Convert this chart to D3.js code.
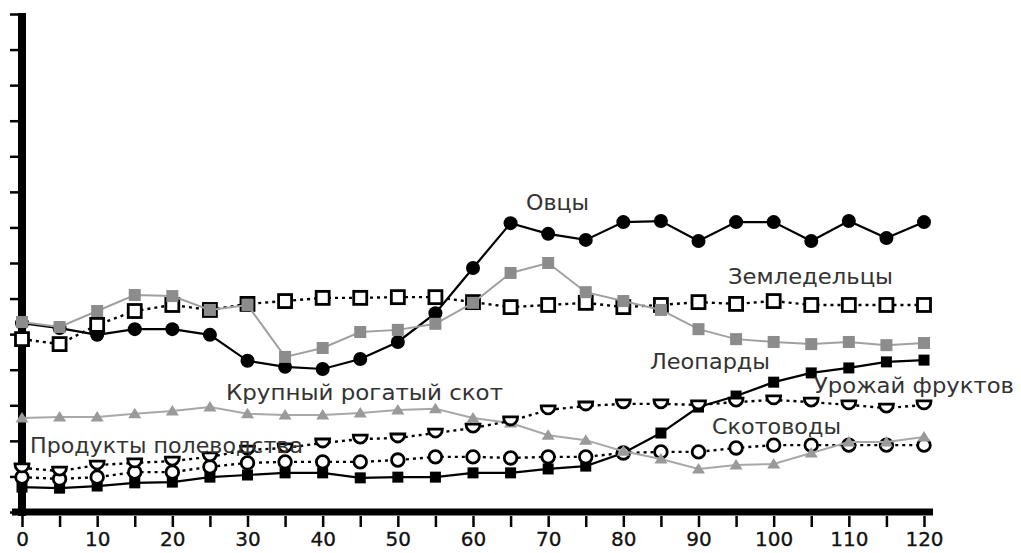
<!DOCTYPE html>
<html>
<head>
<meta charset="utf-8">
<script src="https://cdn.jsdelivr.net/npm/d3@7"></script>
<style>
  html, body { margin: 0; padding: 0; background: #fff; }
  svg { display: block; }
</style>
</head>
<body>
<svg id="chart" width="1021" height="553"></svg>
<script>
// ---- data ----
const years = d3.range(0, 121, 5);
const xTickLabels = [0, 10, 20, 30, 40, 50, 60, 70, 80, 90, 100, 110, 120];
const yTicks = d3.range(0, 15, 1);

const sheep      = [5.31, 5.17, 4.98, 5.14, 5.14, 4.98, 4.25, 4.08, 4.02, 4.30, 4.78, 5.59, 6.86, 8.12, 7.82, 7.65, 8.15, 8.18, 7.62, 8.15, 8.15, 7.62, 8.18, 7.70, 8.15];
const graySquares= [5.34, 5.20, 5.65, 6.10, 6.07, 5.68, 5.82, 4.36, 4.61, 5.06, 5.12, 5.29, 5.88, 6.72, 7.00, 6.18, 5.93, 5.68, 5.14, 4.86, 4.78, 4.72, 4.78, 4.69, 4.75];
const farmers    = [4.86, 4.72, 5.26, 5.65, 5.82, 5.68, 5.85, 5.93, 6.02, 6.02, 6.04, 6.04, 5.90, 5.76, 5.82, 5.88, 5.76, 5.82, 5.90, 5.85, 5.93, 5.82, 5.82, 5.82, 5.82];
const cattle     = [2.64, 2.67, 2.67, 2.76, 2.84, 2.95, 2.76, 2.73, 2.73, 2.78, 2.87, 2.90, 2.64, 2.50, 2.16, 2.02, 1.71, 1.49, 1.21, 1.32, 1.35, 1.66, 1.97, 1.97, 2.11];
const fruit      = [1.24, 1.15, 1.32, 1.38, 1.43, 1.55, 1.74, 1.80, 1.94, 2.05, 2.08, 2.22, 2.36, 2.56, 2.87, 2.98, 3.04, 3.04, 3.01, 3.09, 3.15, 3.09, 3.01, 2.92, 3.01];
const herders    = [0.98, 0.93, 0.98, 1.12, 1.12, 1.27, 1.38, 1.41, 1.41, 1.41, 1.46, 1.55, 1.55, 1.52, 1.55, 1.55, 1.66, 1.69, 1.69, 1.80, 1.88, 1.88, 1.88, 1.88, 1.88];
const leopards   = [0.70, 0.67, 0.73, 0.82, 0.84, 0.98, 1.04, 1.10, 1.10, 0.96, 0.98, 0.98, 1.10, 1.10, 1.21, 1.29, 1.66, 2.22, 2.95, 3.26, 3.65, 3.91, 4.05, 4.22, 4.27];

const labels = [
  { text: "Овцы", x: 526, y: 210, w: 63 },
  { text: "Земледельцы", x: 728, y: 284, w: 165 },
  { text: "Леопарды", x: 650, y: 369, w: 120 },
  { text: "Урожай фруктов", x: 814, y: 393, w: 200 },
  { text: "Крупный рогатый скот", x: 226, y: 400, w: 277 },
  { text: "Продукты полеводства", x: 30, y: 453, w: 273 },
  { text: "Скотоводы", x: 712, y: 434, w: 129 }
];

// ---- scales ----
const svg = d3.select("#chart");
const x = d3.scaleLinear().domain([0, 120]).range([22, 924]);
const y = d3.scaleLinear().domain([0, 14]).range([512, 14]);

// ---- axes ----
const yAxis = d3.axisLeft(y).tickValues(yTicks).tickSize(8).tickFormat("");
const gy = svg.append("g").attr("transform", "translate(18,0)").call(yAxis);
gy.select(".domain").remove();
gy.selectAll(".tick line").attr("stroke", "#000").attr("stroke-width", 2.5);
svg.append("line")
  .attr("x1", x(0)).attr("x2", x(0))
  .attr("y1", y(14) - 1).attr("y2", y(0) + 4)
  .attr("stroke", "#000").attr("stroke-width", 8);

const xAxis = d3.axisBottom(x).tickValues(years).tickSize(11)
  .tickFormat(d => (xTickLabels.includes(d) ? d : ""));
const gx = svg.append("g").attr("transform", "translate(0,516)").call(xAxis);
gx.select(".domain").remove();
gx.selectAll(".tick line").attr("stroke", "#000").attr("stroke-width", 2.5);
gx.selectAll(".tick text")
  .attr("font-family", "DejaVu Sans, sans-serif")
  .attr("font-size", 20)
  .attr("fill", "#111")
  .attr("stroke", "#111").attr("stroke-width", 0.3)
  .attr("y", 16);
svg.append("line")
  .attr("x1", x(0) - 10).attr("x2", x(120) + 9)
  .attr("y1", y(0)).attr("y2", y(0))
  .attr("stroke", "#000").attr("stroke-width", 7);

// ---- series ----
const line = d3.line().x((d, i) => x(years[i])).y(d => y(d));

function drawLine(vals, color, width, dash) {
  svg.append("path").datum(vals)
    .attr("d", line)
    .attr("fill", "none")
    .attr("stroke", color)
    .attr("stroke-width", width)
    .attr("stroke-dasharray", dash || null);
}
function drawMarkers(vals, shapeFn) {
  const g = svg.append("g");
  vals.forEach((v, i) => shapeFn(g, x(years[i]), y(v)));
}

const halfCircle = "M -7 -4 H 7 A 7 8 0 0 1 -7 -4 Z";
const triUp = "M 0 -6 L 6.5 4.5 L -6.5 4.5 Z";

// Leopards (black squares, solid)
drawLine(leopards, "#000", 2.2, null);
drawMarkers(leopards, (g, cx, cy) => g.append("rect")
  .attr("x", cx - 5.5).attr("y", cy - 5.5).attr("width", 11).attr("height", 11).attr("fill", "#000"));

// Herders (open circles, dotted)
drawLine(herders, "#000", 2.4, "3,4");
drawMarkers(herders, (g, cx, cy) => g.append("circle")
  .attr("cx", cx).attr("cy", cy).attr("r", 6.3)
  .attr("fill", "#fff").attr("stroke", "#000").attr("stroke-width", 2.8));

// Cattle (gray triangles, solid gray)
drawLine(cattle, "#a8a8a8", 2, null);
drawMarkers(cattle, (g, cx, cy) => g.append("path")
  .attr("d", triUp).attr("transform", `translate(${cx},${cy})`).attr("fill", "#9a9a9a"));

// Fruit harvest (half circles, dotted)
drawLine(fruit, "#000", 2.4, "3,4");
drawMarkers(fruit, (g, cx, cy) => g.append("path")
  .attr("d", halfCircle).attr("transform", `translate(${cx},${cy})`)
  .attr("fill", "#fff").attr("stroke", "#000").attr("stroke-width", 2.8));

// Sheep (black circles, solid)
drawLine(sheep, "#000", 2.2, null);
drawMarkers(sheep, (g, cx, cy) => g.append("circle")
  .attr("cx", cx).attr("cy", cy).attr("r", 7).attr("fill", "#000"));

// Farmers (open squares, dotted)
drawLine(farmers, "#000", 2.4, "3,4");
drawMarkers(farmers, (g, cx, cy) => g.append("rect")
  .attr("x", cx - 6.5).attr("y", cy - 6.5).attr("width", 13).attr("height", 13)
  .attr("fill", "#fff").attr("stroke", "#000").attr("stroke-width", 2.8));

// Gray squares (solid gray)
drawLine(graySquares, "#a0a0a0", 2, null);
drawMarkers(graySquares, (g, cx, cy) => g.append("rect")
  .attr("x", cx - 6).attr("y", cy - 6).attr("width", 12).attr("height", 12).attr("fill", "#8c8c8c"));

// ---- labels ----
svg.append("g").selectAll("text").data(labels).join("text")
  .attr("x", d => d.x).attr("y", d => d.y)
  .attr("textLength", d => d.w)
  .attr("lengthAdjust", "spacingAndGlyphs")
  .attr("font-family", "DejaVu Sans, sans-serif")
  .attr("font-size", 21)
  .attr("fill", "#333")
  .text(d => d.text);
</script>
</body>
</html>
